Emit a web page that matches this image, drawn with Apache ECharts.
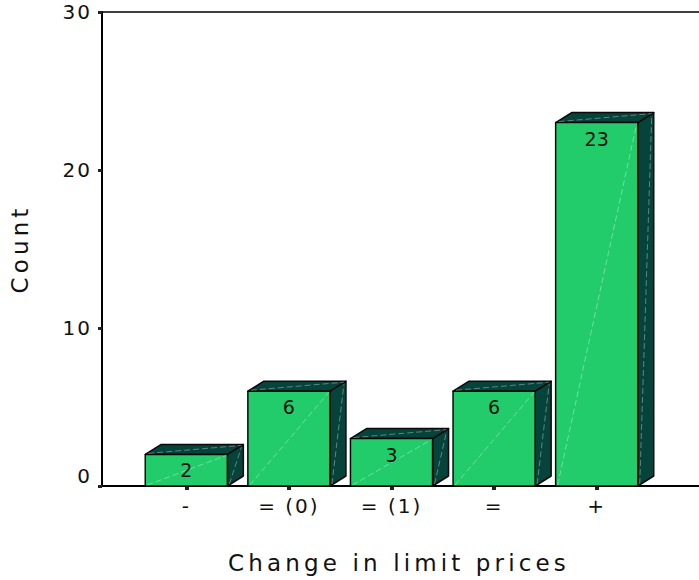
<!DOCTYPE html>
<html>
<head>
<meta charset="utf-8">
<script src="https://cdn.jsdelivr.net/npm/echarts@6/dist/echarts.min.js"></script>
<style>
  html, body { margin: 0; padding: 0; background: #fff; }
  #chart { width: 699px; height: 580px; }
  /* Axis titles are set at 23px and tick labels at 20px; both are tracked out */
  #chart text[style*="23px"] { letter-spacing: 0.18em; }
  #chart text[style*="20px"] { letter-spacing: 0.1em; }
</style>
</head>
<body>
<div id="chart"></div>
<script>
// Category labels along the x axis
const categories = ['-', '= (0)', '= (1)', '=', '+'];
// Count of cases per category
const counts = [2, 6, 3, 6, 23];
// Value axis range and step
const yMin = 0;
const yMax = 30;
const yStep = 10;

const FONT = 'DejaVu Sans';
const FRONT = '#22cc6b';
const DARK = '#06433a';
const EDGE = '#0a0a0a';
const DEPTH_X = 16;
const DEPTH_Y = -10;

function renderBar(params, api) {
  const idx = api.value(0);
  const v = api.value(1);
  const base = api.coord([idx, 0]);
  const top = api.coord([idx, v]);
  const band = api.size([1, 0])[0];
  const w = band * 0.8;
  const x0 = base[0] - w / 2;
  const x1 = base[0] + w / 2;
  const yb = base[1];
  const yt = top[1];
  const edge = { stroke: EDGE, lineWidth: 1.5, lineJoin: 'round' };
  const gloss = { stroke: 'rgba(255,255,255,0.35)', lineWidth: 1, lineDash: [6, 3], fill: null };
  return {
    type: 'group',
    children: [
      { type: 'polygon',
        shape: { points: [[x1, yb], [x1 + DEPTH_X, yb + DEPTH_Y], [x1 + DEPTH_X, yt + DEPTH_Y], [x1, yt]] },
        style: Object.assign({ fill: DARK }, edge) },
      { type: 'polygon',
        shape: { points: [[x0, yt], [x0 + DEPTH_X, yt + DEPTH_Y], [x1 + DEPTH_X, yt + DEPTH_Y], [x1, yt]] },
        style: Object.assign({ fill: DARK }, edge) },
      { type: 'rect',
        shape: { x: x0, y: yt, width: w, height: yb - yt },
        style: Object.assign({ fill: FRONT }, edge) },
      { type: 'line',
        shape: { x1: x0 + 2, y1: yb - 1, x2: x1 - 1, y2: yt + 1 },
        style: gloss },
      { type: 'line',
        shape: { x1: x0 + 3, y1: yt - 1, x2: x1 + DEPTH_X - 2, y2: yt + DEPTH_Y + 1 },
        style: gloss },
      { type: 'line',
        shape: { x1: x1 + 2, y1: yb - 2, x2: x1 + DEPTH_X - 2, y2: yt + DEPTH_Y + 3 },
        style: gloss },
      { type: 'text',
        style: {
          text: String(v),
          x: base[0],
          y: yt + 16,
          align: 'center',
          verticalAlign: 'middle',
          fill: '#111',
          font: '19px "' + FONT + '"'
        } }
    ]
  };
}

const chart = echarts.init(document.getElementById('chart'), null, { renderer: 'svg' });

chart.setOption({
  animation: false,
  backgroundColor: '#fff',
  textStyle: { fontFamily: FONT },
  grid: [
    { left: 132, right: 51, top: 12, bottom: 94 },
    { left: 99, right: 0, top: 12, bottom: 94 }
  ],
  xAxis: [
    {
      type: 'category',
      gridIndex: 0,
      data: categories,
      axisLine: { show: false },
      axisTick: { show: true, alignWithLabel: true, length: 4, lineStyle: { color: '#222', width: 4 } },
      axisLabel: { color: '#111', fontSize: 20, fontFamily: FONT, margin: 10 },
      splitLine: { show: false }
    },
    {
      type: 'value',
      gridIndex: 1,
      position: 'bottom',
      min: 0, max: 1,
      axisLine: { show: true, lineStyle: { color: '#000', width: 2 } },
      axisTick: { show: false },
      axisLabel: { show: false },
      splitLine: { show: false },
      name: 'Change in limit prices',
      nameLocation: 'middle',
      nameGap: 65,
      nameTextStyle: { color: '#111', fontSize: 23, fontFamily: FONT }
    },
    {
      type: 'value',
      gridIndex: 1,
      position: 'top',
      min: 0, max: 1,
      axisLine: { show: true, lineStyle: { color: '#000', width: 1.5 } },
      axisTick: { show: false },
      axisLabel: { show: false },
      splitLine: { show: false }
    }
  ],
  yAxis: [
    {
      type: 'value',
      gridIndex: 0,
      min: yMin,
      max: yMax,
      interval: yStep,
      offset: 33,
      axisLine: { show: true, lineStyle: { color: '#000', width: 2 } },
      axisTick: { show: true, length: 4, lineStyle: { color: '#222', width: 3 } },
      axisLabel: {
        color: '#111',
        fontSize: 20,
        fontFamily: FONT,
        margin: 10,
        formatter: function (val) { return val === 0 ? '{z|0}' : String(val); },
        rich: { z: { fontSize: 20, fontFamily: FONT, color: '#111', padding: [0, 0, 20, 0] } }
      },
      splitLine: { show: false },
      name: 'Count',
      nameLocation: 'middle',
      nameGap: 71,
      nameTextStyle: { color: '#111', fontSize: 23, fontFamily: FONT }
    },
    {
      type: 'value',
      gridIndex: 1,
      min: 0, max: 1,
      show: false
    }
  ],
  series: [
    {
      type: 'custom',
      xAxisIndex: 0,
      yAxisIndex: 0,
      renderItem: renderBar,
      encode: { x: 0, y: 1 },
      data: counts.map(function (c, i) { return [i, c]; }),
      clip: false
    }
  ]
});
</script>
</body>
</html>
